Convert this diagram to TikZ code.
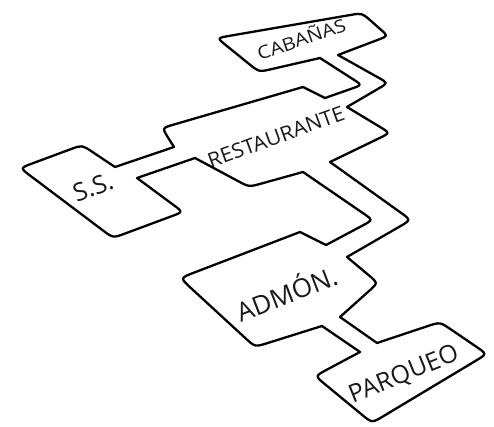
\documentclass[tikz,border=0pt]{standalone}
\usepackage{fontspec}
\setmainfont{Open Sans}
\usetikzlibrary{calc}
\tikzset{
  outline/.style={draw=black, line width=2.3pt, line join=round, fill=white},
  lbl/.style={text=black!90, inner sep=0pt, anchor=center}
}
\begin{document}
\begin{tikzpicture}[x=1pt,y=-1pt]
\useasboundingbox (0,0) rectangle (494,427);
% outline points (clockwise)
\coordinate (c1) at (217,38);
\coordinate (c2) at (362,13);
\coordinate (c3) at (388,36);
\coordinate (c4) at (338,55);
\coordinate (c5) at (388,83);
\coordinate (c6) at (347,107);
\coordinate (c7) at (390,133);
\coordinate (c8) at (330,162);
\coordinate (c9) at (411,220);
\coordinate (c10) at (347,257);
\coordinate (c11) at (378,283);
\coordinate (c12) at (340,317);
\coordinate (c13) at (377,343);
\coordinate (c14) at (440,322);
\coordinate (c15) at (487,354);
\coordinate (c16) at (372,423);
\coordinate (c17) at (315,376);
\coordinate (c18) at (360,352);
\coordinate (c19) at (322,326);
\coordinate (c20) at (255,347);
\coordinate (c21) at (180,278);
\coordinate (c22) at (300,232);
\coordinate (c23) at (326,245);
\coordinate (c24) at (373,220);
\coordinate (c25) at (303,172);
\coordinate (c26) at (249,187);
\coordinate (c27) at (195,158);
\coordinate (c28) at (137,178);
\coordinate (c29) at (183,212);
\coordinate (c30) at (113,238);
\coordinate (c31) at (20,168);
\coordinate (c32) at (82,145);
\coordinate (c33) at (115,167);
\coordinate (c34) at (174,147);
\coordinate (c35) at (162,128);
\coordinate (c36) at (303,87);
\coordinate (c37) at (325,98);
\coordinate (c38) at (362,85);
\coordinate (c39) at (320,58);
\coordinate (c40) at (259,72);
\draw[outline] ($(c1)!12pt!(c40)$) .. controls (c1) .. ($(c1)!12pt!(c2)$)
 -- ($(c2)!12pt!(c1)$) .. controls (c2) .. ($(c2)!12pt!(c3)$)
 -- ($(c3)!10pt!(c2)$) .. controls (c3) .. ($(c3)!10pt!(c4)$)
 -- (c4)
 -- ($(c5)!11pt!(c4)$) .. controls (c5) .. ($(c5)!11pt!(c6)$)
 -- (c6)
 -- ($(c7)!12pt!(c6)$) .. controls (c7) .. ($(c7)!12pt!(c8)$)
 -- (c8)
 -- ($(c9)!13pt!(c8)$) .. controls (c9) .. ($(c9)!13pt!(c10)$)
 -- (c10)
 -- ($(c11)!12pt!(c10)$) .. controls (c11) .. ($(c11)!12pt!(c12)$)
 -- (c12) -- (c13)
 -- ($(c14)!13pt!(c13)$) .. controls (c14) .. ($(c14)!13pt!(c15)$)
 -- ($(c15)!13pt!(c14)$) .. controls (c15) .. ($(c15)!13pt!(c16)$)
 -- ($(c16)!13pt!(c15)$) .. controls (c16) .. ($(c16)!13pt!(c17)$)
 -- ($(c17)!13pt!(c16)$) .. controls (c17) .. ($(c17)!13pt!(c18)$)
 -- (c18) -- (c19)
 -- ($(c20)!13pt!(c19)$) .. controls (c20) .. ($(c20)!13pt!(c21)$)
 -- ($(c21)!15pt!(c20)$) .. controls (c21) .. ($(c21)!15pt!(c22)$)
 -- (c22) -- (c23)
 -- ($(c24)!12pt!(c23)$) .. controls (c24) .. ($(c24)!12pt!(c25)$)
 -- (c25)
 -- ($(c26)!13pt!(c25)$) .. controls (c26) .. ($(c26)!13pt!(c27)$)
 -- (c27) -- (c28)
 -- ($(c29)!12pt!(c28)$) .. controls (c29) .. ($(c29)!12pt!(c30)$)
 -- ($(c30)!13pt!(c29)$) .. controls (c30) .. ($(c30)!13pt!(c31)$)
 -- ($(c31)!13pt!(c30)$) .. controls (c31) .. ($(c31)!13pt!(c32)$)
 -- ($(c32)!12pt!(c31)$) .. controls (c32) .. ($(c32)!12pt!(c33)$)
 -- (c33) -- (c34)
 -- ($(c35)!12pt!(c34)$) .. controls (c35) .. ($(c35)!12pt!(c36)$)
 -- (c36) -- (c37)
 -- ($(c38)!11pt!(c37)$) .. controls (c38) .. ($(c38)!11pt!(c39)$)
 -- (c39)
 -- ($(c40)!12pt!(c39)$) .. controls (c40) .. ($(c40)!12pt!(c1)$)
 -- cycle;
% labels
\node[lbl, rotate=19, font=\fontsize{18}{18}\selectfont] (cab) at (301,38) {\scalebox{1.15}[1]{CABAÑAS}};
\node[lbl, rotate=20, font=\fontsize{20.5}{20}\selectfont] (res) at (276,137) {\scalebox{1.05}[1]{RESTAURANTE}};
\node[lbl, rotate=20, font=\fontsize{25}{25}\selectfont] (ss) at (93,187) {S.S.};
\node[lbl, rotate=21, font=\fontsize{26}{26}\selectfont] (adm) at (286,292) {ADMÓN.};
\node[lbl, rotate=22, font=\fontsize{25}{25}\selectfont] (par) at (404,375) {PARQUEO};
\end{tikzpicture}
\end{document}
